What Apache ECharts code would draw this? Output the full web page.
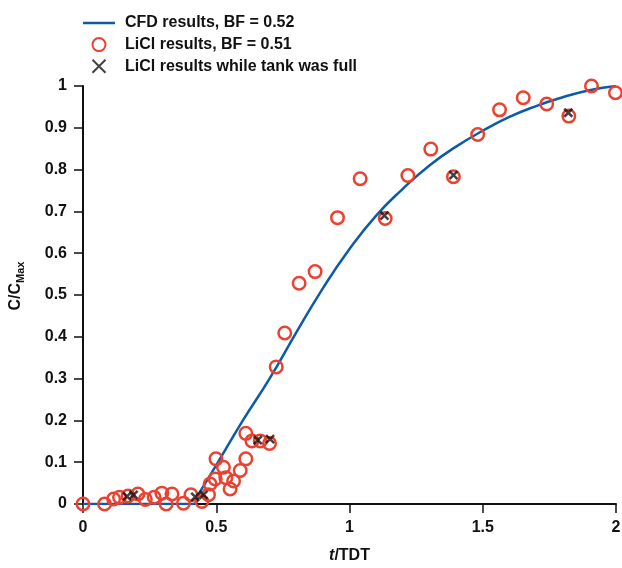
<!DOCTYPE html>
<html>
<head>
<meta charset="utf-8">
<script src="https://cdn.jsdelivr.net/npm/echarts@6/dist/echarts.min.js"></script>
<style>
  html, body { margin: 0; padding: 0; background: #fff; }
  #chart { width: 622px; height: 568px; }
</style>
</head>
<body>
<div id="chart"></div>
<script>
// CFD curve
var cfdT = [0, 0.41, 0.44, 0.5, 0.6, 0.7, 0.8, 0.9, 1.0, 1.1, 1.2, 1.3, 1.4, 1.5, 1.6, 1.7, 1.8, 1.9, 2.0];
var cfdC = [0, 0, 0.03, 0.093, 0.2, 0.3, 0.41, 0.516, 0.61, 0.69, 0.754, 0.81, 0.855, 0.893, 0.926, 0.952, 0.973, 0.99, 1.0];

// LiCl measurements (circles)
var liclT = [0, 0.081, 0.115, 0.137, 0.169, 0.206, 0.234, 0.267, 0.296, 0.312, 0.334, 0.377, 0.405, 0.446, 0.471,
  0.477, 0.496, 0.499, 0.527, 0.536, 0.552, 0.565, 0.590, 0.611, 0.611, 0.634, 0.665, 0.700,
  0.725, 0.757, 0.811, 0.871, 0.955, 1.040, 1.134, 1.219, 1.305, 1.39, 1.481, 1.563, 1.652, 1.740, 1.823, 1.908, 1.998];
var liclC = [0, 0, 0.012, 0.016, 0.019, 0.024, 0.011, 0.016, 0.026, 0, 0.024, 0.002, 0.022, 0.006, 0.022,
  0.048, 0.06, 0.108, 0.088, 0.063, 0.036, 0.055, 0.080, 0.108, 0.169, 0.151, 0.151, 0.145,
  0.328, 0.409, 0.528, 0.556, 0.685, 0.778, 0.683, 0.786, 0.849, 0.783, 0.884, 0.943, 0.972, 0.957, 0.928, 1.0, 0.984];

// LiCl while tank was full (crosses)
var fullT = [0.165, 0.19, 0.421, 0.452, 0.656, 0.702, 1.131, 1.39, 1.821];
var fullC = [0.018, 0.022, 0.017, 0.022, 0.153, 0.155, 0.690, 0.787, 0.936];

var xTicks = [0, 0.5, 1, 1.5, 2];

function pairs(xs, ys) {
  var out = [];
  for (var i = 0; i < xs.length; i++) out.push([xs[i], ys[i]]);
  return out;
}

var FONT = '"Liberation Sans", Arial, Helvetica, sans-serif';
var RED = '#ea4230';
var BLUE = '#0b5ba9';
var CROSS = 'path://M0,0L10,10M10,0L0,10';

var myChart = echarts.init(document.getElementById('chart'));
var option = {
  animation: false,
  textStyle: { fontFamily: FONT },
  grid: { left: 83, right: 6, top: 86, bottom: 64, containLabel: false, outerBoundsMode: 'none' },
  legend: {
    orient: 'vertical',
    left: 78,
    top: 9,
    itemWidth: 32,
    itemHeight: 13,
    itemGap: 3.6,
    textStyle: { fontFamily: FONT, fontSize: 16, fontWeight: 'bold', color: '#111', lineHeight: 18, padding: [0, 0, 0, 5] },
    data: [
      { name: 'CFD results, BF = 0.52', icon: 'path://M0,0L32,0L32,2.5L0,2.5Z' },
      { name: 'LiCl results, BF = 0.51' },
      { name: 'LiCl results while tank was full' }
    ]
  },
  xAxis: {
    type: 'value',
    min: 0, max: 2, interval: 0.5,
    name: '{i|t}{n|/TDT}',
    nameLocation: 'middle',
    nameGap: 44,
    nameTextStyle: {
      rich: {
        i: { fontFamily: FONT, fontSize: 16, fontWeight: 'bold', fontStyle: 'italic', color: '#111' },
        n: { fontFamily: FONT, fontSize: 16, fontWeight: 'bold', color: '#111' }
      }
    },
    splitLine: { show: false },
    axisLine: { onZero: false, lineStyle: { color: '#111', width: 2 } },
    axisTick: { inside: false, length: 9, lineStyle: { color: '#111', width: 1.5 } },
    axisLabel: {
      margin: 16, fontSize: 16, fontWeight: 'bold', color: '#111', fontFamily: FONT,
      formatter: function (v) { return xTicks.indexOf(v) >= 0 ? String(v) : ''; }
    }
  },
  yAxis: {
    type: 'value',
    min: 0, max: 1, interval: 0.1,
    name: '{a|C/C}{b|Max}',
    nameLocation: 'middle',
    nameRotate: 90,
    nameGap: 57,
    nameTextStyle: {
      padding: [0, 0, 0, 18],
      rich: {
        a: { fontFamily: FONT, fontSize: 16, fontWeight: 'bold', color: '#111' },
        b: { fontFamily: FONT, fontSize: 11, fontWeight: 'bold', color: '#111', padding: [9, 0, 0, 0] }
      }
    },
    splitLine: { show: false },
    axisLine: { show: true, lineStyle: { color: '#111', width: 2 } },
    axisTick: { show: true, inside: false, length: 9, lineStyle: { color: '#111', width: 1.5 } },
    axisLabel: {
      margin: 16, fontSize: 16, fontWeight: 'bold', color: '#111', fontFamily: FONT,
      formatter: function (v) { return String(Math.round(v * 10) / 10); }
    }
  },
  series: [
    {
      name: 'CFD results, BF = 0.52',
      type: 'line',
      data: pairs(cfdT, cfdC),
      smooth: 0.5,
      symbol: 'none',
      lineStyle: { color: BLUE, width: 2.5 },
      itemStyle: { color: BLUE },
      z: 2
    },
    {
      name: 'LiCl results, BF = 0.51',
      type: 'scatter',
      data: pairs(liclT, liclC),
      symbol: 'circle',
      symbolSize: 12.5,
      itemStyle: { color: 'rgba(255,255,255,0)', borderColor: RED, borderWidth: 2.5, opacity: 1 },
      z: 3
    },
    {
      name: 'LiCl results while tank was full',
      type: 'scatter',
      data: pairs(fullT, fullC),
      symbol: CROSS,
      symbolSize: 8,
      itemStyle: { color: 'none', borderColor: '#111', borderWidth: 2.5 },
      z: 4
    }
  ]
};
option && myChart.setOption(option);
</script>
</body>
</html>
